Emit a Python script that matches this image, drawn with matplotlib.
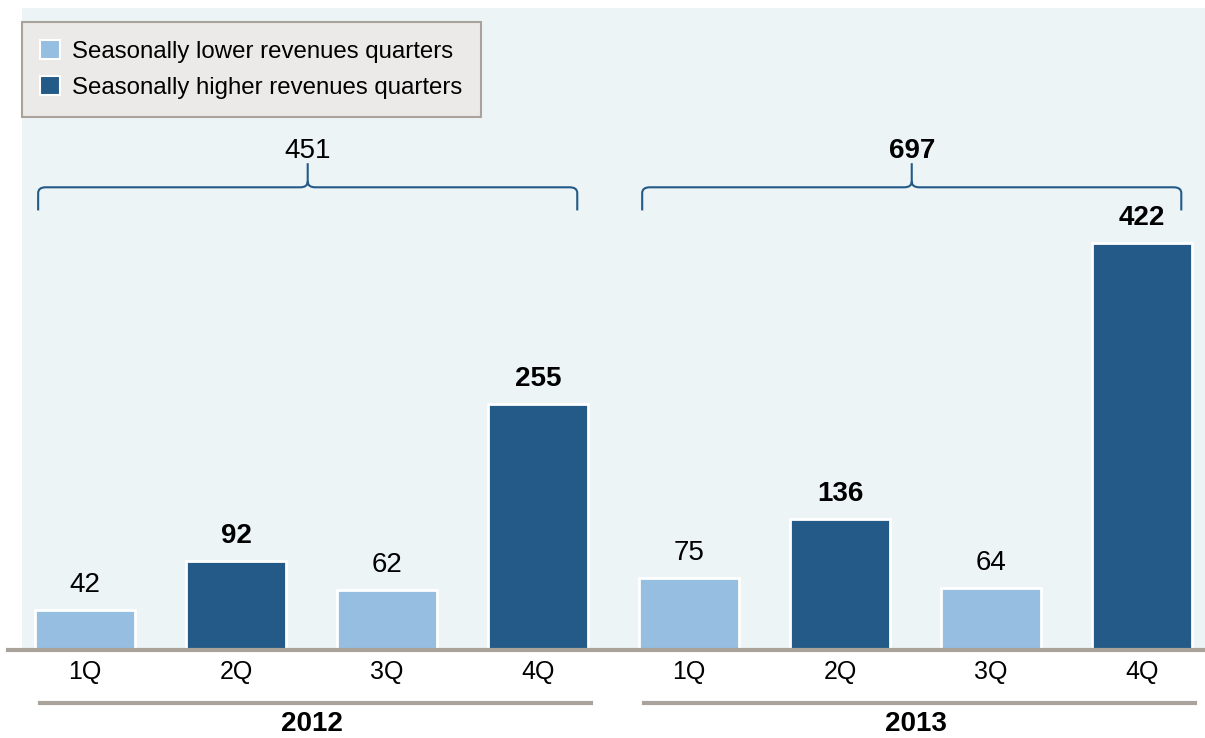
import numpy as np
import matplotlib.pyplot as plt
from matplotlib.lines import Line2D
from matplotlib.patches import Patch, PathPatch
from matplotlib.path import Path
import matplotlib.transforms as mtransforms

plt.rcParams['font.family'] = ['Liberation Sans', 'DejaVu Sans']

# Дані
quarters = ['1Q', '2Q', '3Q', '4Q', '1Q', '2Q', '3Q', '4Q']
values = [42, 92, 62, 255, 75, 136, 64, 422]
higher = [False, True, False, True, False, True, False, True]
years = ['2012', '2013']
year_totals = [451, 697]
year_bold = [False, True]

light = '#95BEE1'
dark = '#245A87'
grey = '#A9A39C'

fig = plt.figure(figsize=(12.05, 7.38), dpi=100)
ax = fig.add_axes([22 / 1205, 1 - 650 / 738, 1183 / 1205, 642 / 738])
ax.set_facecolor('#ECF4F6')

x = np.arange(len(values))
colors = [dark if h else light for h in higher]
ax.bar(x, values, width=0.66, color=colors, edgecolor='white', linewidth=2, zorder=2)

for xi, v, h in zip(x, values, higher):
    ax.annotate(str(v), (xi, v), xytext=(0, 18), textcoords='offset points',
                ha='center', va='center', fontsize=20,
                fontweight='bold' if h else 'normal', color='black')

ax.set_xlim(-0.417, 7.417)
ax.set_ylim(0, 666)
ax.set_yticks([])
ax.set_xticks(x)
ax.set_xticklabels(quarters, fontsize=18)
ax.tick_params(axis='x', length=0, pad=7)
for s in ax.spines.values():
    s.set_visible(False)

# базова лінія
fig.add_artist(Line2D([8 / 1205, 1], [1 - 650 / 738] * 2, color=grey, lw=3,
                      transform=fig.transFigure))

# дужки та роки
trans = mtransforms.blended_transform_factory(ax.transData, ax.transAxes)
for i, (yr, tot, b) in enumerate(zip(years, year_totals, year_bold)):
    x0 = 4 * i - 0.31
    x1 = 4 * i + 3.26
    xm = (x0 + x1) / 2
    ylo, ymid, ytop = 456, 480, 505
    dx = 0.05
    dy = 6
    verts = [(x0, ylo), (x0, ymid - dy), (x0, ymid), (x0 + dx, ymid),
             (xm - dx, ymid), (xm, ymid), (xm, ymid + dy), (xm, ytop),
             (xm, ymid + dy), (xm, ymid), (xm + dx, ymid),
             (x1 - dx, ymid), (x1, ymid), (x1, ymid - dy), (x1, ylo)]
    codes = [Path.MOVETO, Path.LINETO, Path.CURVE3, Path.CURVE3,
             Path.LINETO, Path.CURVE3, Path.CURVE3, Path.LINETO,
             Path.MOVETO, Path.CURVE3, Path.CURVE3,
             Path.LINETO, Path.CURVE3, Path.CURVE3, Path.LINETO]
    ax.add_patch(PathPatch(Path(verts, codes), facecolor='none', edgecolor=dark, lw=1.5))
    ax.text(xm, 518, str(tot), ha='center', va='center', fontsize=20,
            fontweight='bold' if b else 'normal')

    ax.add_line(Line2D([4 * i - 0.30, 4 * i + 3.35], [-0.082, -0.082], color=grey, lw=3,
                       transform=trans, clip_on=False))
    ax.text(4 * i + 1.5, -0.115, yr, transform=trans, ha='center', va='center',
            fontsize=20, fontweight='bold')

# легенда
handles = [Patch(facecolor=light, edgecolor='white', lw=1.5),
           Patch(facecolor=dark, edgecolor='white', lw=1.5)]
leg = ax.legend(handles, ['Seasonally lower revenues quarters', 'Seasonally higher revenues quarters'],
                loc='upper left', bbox_to_anchor=(0, 0.978), borderaxespad=0, fontsize=17.3,
                frameon=True, fancybox=False, handlelength=0.85, handleheight=0.85,
                handletextpad=0.5, labelspacing=0.55, borderpad=0.75)
leg.get_frame().set_facecolor('#EBEAE8')
leg.get_frame().set_edgecolor(grey)
leg.get_frame().set_linewidth(1.5)
leg.get_frame().set_alpha(1)

plt.savefig('out.png', dpi=100)
